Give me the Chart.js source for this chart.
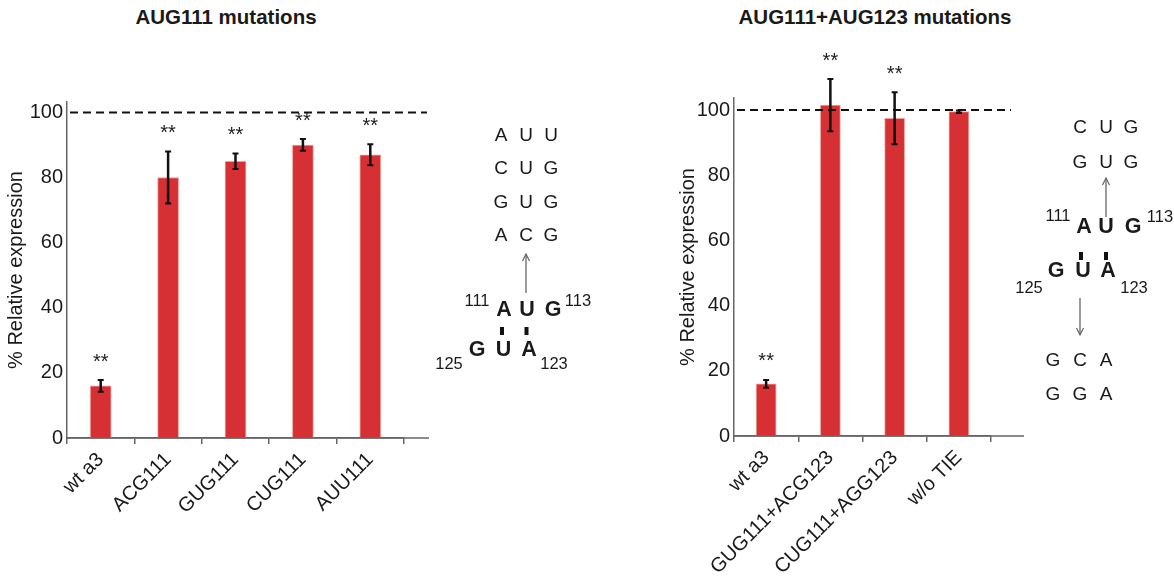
<!DOCTYPE html>
<html>
<head>
<meta charset="utf-8">
<script src="https://cdn.jsdelivr.net/npm/chart.js@4.4.1/dist/chart.umd.min.js"></script>
<style>
  body { margin: 0; background: #fff; width: 1174px; height: 579px; overflow: hidden; position: relative;
         font-family: "Liberation Sans", Arial, sans-serif; color: #1a1a1a; }
  .panel { position: absolute; top: 0; height: 579px; }
  .title { position: absolute; font-weight: bold; font-size: 20.5px; transform: translate(-50%, -50%);
           white-space: nowrap; line-height: 1; }
  .nt { position: absolute; transform: translate(-50%, -50%); font-size: 19px; line-height: 1; white-space: nowrap; }
  .nt.b { font-weight: bold; font-size: 21.5px; }
  .nt.num { font-size: 16.5px; }
  svg { position: absolute; left: 0; top: 0; }
</style>
</head>
<body>
<div class="title" style="left:226px; top:17px;">AUG111 mutations</div>
<div class="title" style="left:875px; top:17px;">AUG111+AUG123 mutations</div>

<div class="panel" style="left:0; width:440px;"><canvas id="mutChart"></canvas></div>
<div class="panel" style="left:672px; width:368px;"><canvas id="dblChart"></canvas></div>

<svg width="1174" height="579" id="marks"></svg>

<script>
// AUG111 single mutations
const mutLabels = ["wt a3", "ACG111", "GUG111", "CUG111", "AUU111"];
const mutValues = [16, 80, 85, 90, 87];
const mutErrors = [1.8, 8, 2.4, 1.8, 3.2];
const mutStars = ["**", "**", "**", "**", "**"];

// AUG111 + AUG123 double mutations
const dblLabels = ["wt a3", "GUG111+ACG123", "CUG111+AGG123", "w/o TIE"];
const dblValues = [16, 101.5, 97.5, 99.5];
const dblErrors = [1.2, 8, 8, 0.4];
const dblStars = ["**", "**", "**", ""];

const yTicks = [0, 20, 40, 60, 80, 100];
const refLine = 100;

const BAR_RED = "#d73034";
const AXIS_GREY = "#666";

// error bars, stars, 100% line and the longer x axis
const decorPlugin = {
  id: "decor",
  afterDatasetsDraw(chart, args, opts) {
    const { ctx, chartArea } = chart;
    const y = chart.scales.y;
    const meta = chart.getDatasetMeta(0);
    ctx.save();

    ctx.strokeStyle = AXIS_GREY;
    ctx.lineWidth = 1.5;
    ctx.beginPath();
    ctx.moveTo(chartArea.left, chartArea.bottom);
    ctx.lineTo(chartArea.right + opts.extend, chartArea.bottom);
    ctx.stroke();

    const yRef = y.getPixelForValue(refLine);
    ctx.setLineDash([8, 5]);
    ctx.strokeStyle = "#111";
    ctx.lineWidth = 2;
    ctx.beginPath();
    ctx.moveTo(chartArea.left + 3, yRef);
    ctx.lineTo(chartArea.right + opts.dashExtend, yRef);
    ctx.stroke();
    ctx.setLineDash([]);

    meta.data.forEach((bar, i) => {
      const v = opts.values[i];
      const e = opts.errors[i];
      const top = y.getPixelForValue(v + e);
      const bot = y.getPixelForValue(v - e);
      ctx.strokeStyle = "#111";
      ctx.lineWidth = 2.5;
      ctx.beginPath();
      ctx.moveTo(bar.x, top);
      ctx.lineTo(bar.x, bot);
      ctx.stroke();
      ctx.lineWidth = 2;
      ctx.beginPath();
      ctx.moveTo(bar.x - 3, top);
      ctx.lineTo(bar.x + 3, top);
      ctx.moveTo(bar.x - 3, bot);
      ctx.lineTo(bar.x + 3, bot);
      ctx.stroke();

      if (opts.stars[i]) {
        ctx.fillStyle = "#222";
        ctx.font = '20px "Liberation Sans", Arial, sans-serif';
        ctx.textAlign = "center";
        ctx.textBaseline = "alphabetic";
        ctx.fillText(opts.stars[i], bar.x, top - 12.5);
      }
    });
    ctx.restore();
  },
};

function makeChart(id, labels, values, errors, stars, cfg) {
  return new Chart(document.getElementById(id), {
    type: "bar",
    data: {
      labels: labels,
      datasets: [
        {
          data: values,
          backgroundColor: BAR_RED,
          borderColor: "rgba(240,150,140,0.9)",
          borderWidth: 1,
          barThickness: cfg.barWidth,
        },
      ],
    },
    options: {
      responsive: true,
      maintainAspectRatio: false,
      animation: false,
      layout: { padding: { top: cfg.top, right: cfg.right, left: 0, bottom: 0 } },
      scales: {
        x: {
          offset: true,
          grid: {
            display: true,
            drawOnChartArea: false,
            drawTicks: true,
            tickLength: 6,
            offset: true,
            lineWidth: 1.5,
            color: (c) => (c.index === cfg.hideTick ? "rgba(0,0,0,0)" : AXIS_GREY),
          },
          border: { display: true, color: AXIS_GREY, width: 1.5 },
          ticks: {
            color: "#1a1a1a",
            font: { size: 20, family: '"Liberation Sans", Arial, sans-serif' },
            maxRotation: 45,
            minRotation: 45,
            padding: 4,
            autoSkip: false,
          },
          afterFit: (scale) => { scale.height = cfg.xHeight; },
        },
        y: {
          min: 0,
          max: cfg.yMax,
          grid: { display: false, drawTicks: false },
          border: { display: true, color: AXIS_GREY, width: 1.5 },
          afterBuildTicks: (scale) => { scale.ticks = yTicks.map((v) => ({ value: v })); },
          ticks: {
            color: "#1a1a1a",
            padding: 4,
            font: { size: 20, family: '"Liberation Sans", Arial, sans-serif' },
          },
          title: {
            display: true,
            text: "% Relative expression",
            color: "#1a1a1a",
            padding: { top: 4, bottom: 0 },
            font: { size: 20, family: '"Liberation Sans", Arial, sans-serif' },
          },
          afterFit: (scale) => { scale.width = cfg.yWidth; },
        },
      },
      plugins: {
        legend: { display: false },
        tooltip: { enabled: false },
        decor: {
          values: values,
          errors: errors,
          stars: stars,
          extend: cfg.extend,
          dashExtend: cfg.dashExtend,
        },
      },
    },
    plugins: [decorPlugin],
  });
}

makeChart("mutChart", mutLabels, mutValues, mutErrors, mutStars, {
  top: 102, right: 36, xHeight: 141, yWidth: 67, yMax: 103.2,
  barWidth: 21, extend: 25, dashExtend: 23, hideTick: 5,
});
makeChart("dblChart", dblLabels, dblValues, dblErrors, dblStars, {
  top: 98, right: 49, xHeight: 143, yWidth: 62, yMax: 103.7,
  barWidth: 20, extend: 33, dashExtend: 20, hideTick: -1,
});

// RNA base-pairing sketches next to each chart
function put(txt, x, y, cls) {
  const d = document.createElement("div");
  d.className = "nt " + (cls || "");
  d.style.left = x + "px";
  d.style.top = y + "px";
  d.textContent = txt;
  document.body.appendChild(d);
}

const leftRows = [["A", "U", "U"], ["C", "U", "G"], ["G", "U", "G"], ["A", "C", "G"]];
const leftRowY = [134, 167, 201, 234];
leftRows.forEach((row, r) => row.forEach((t, k) => put(t, [501, 526, 551][k], leftRowY[r])));
["A", "U", "G"].forEach((t, k) => put(t, [504, 527, 553][k], 310, "b"));
["G", "U", "A"].forEach((t, k) => put(t, [477, 503.5, 529][k], 350, "b"));
put("111", 477, 300, "num");
put("113", 578, 300, "num");
put("125", 449, 363, "num");
put("123", 554, 363, "num");

[["C", "U", "G"], ["G", "U", "G"]].forEach((row, r) =>
  row.forEach((t, k) => put(t, [1080, 1106, 1131][k], [126, 161][r])));
["A", "U", "G"].forEach((t, k) => put(t, [1084, 1106, 1133][k], 227, "b"));
["G", "U", "A"].forEach((t, k) => put(t, [1056, 1083, 1108][k], 271, "b"));
put("111", 1058, 215, "num");
put("113", 1160, 216, "num");
put("125", 1029, 287, "num");
put("123", 1134, 287, "num");
[["G", "C", "A"], ["G", "G", "A"]].forEach((row, r) =>
  row.forEach((t, k) => put(t, [1053, 1080, 1106][k], [359, 393][r])));

// arrows and pairing ticks
const svg = document.getElementById("marks");
function arrow(x, y1, y2) {
  const dir = y2 < y1 ? 1 : -1;
  svg.innerHTML +=
    `<line x1="${x}" y1="${y1}" x2="${x}" y2="${y2}" stroke="#666" stroke-width="1.3"/>` +
    `<polyline points="${x - 3.5},${y2 + dir * 7} ${x},${y2} ${x + 3.5},${y2 + dir * 7}" fill="none" stroke="#666" stroke-width="1.2"/>`;
}
function tie(x, y) {
  svg.innerHTML += `<rect x="${x - 2}" y="${y - 4}" width="4" height="8" fill="#111"/>`;
}
arrow(526, 293, 254);
arrow(1106, 217, 178);
arrow(1080, 298, 335);
tie(502, 331); tie(526.5, 331);
tie(1081, 256); tie(1106, 256);
</script>
</body>
</html>
